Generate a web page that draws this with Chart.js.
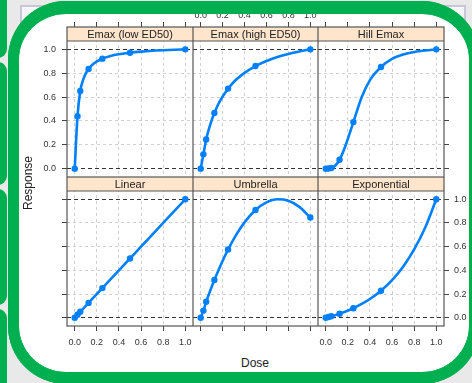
<!DOCTYPE html>
<html>
<head>
<meta charset="utf-8">
<script src="https://cdn.jsdelivr.net/npm/chart.js@4.4.1/dist/chart.umd.min.js"></script>
<style>
  html, body { margin: 0; padding: 0; }
  body { width: 472px; height: 383px; overflow: hidden; position: relative; background: #e9e9e9;
         font-family: 'Liberation Sans', Arial, sans-serif; }
  .pill { position: absolute; left: -4px; width: 11px; background: #00b050; border-radius: 0 9px 9px 0; }
  .sheet { position: absolute; left: 20px; top: 5px; width: 446px; height: 358px; background: #f7f7f7;
           border: 2px solid #cac6da; box-sizing: border-box; }
  .frame { position: absolute; left: 8px; top: 1px; width: 472px; height: 383px; box-sizing: border-box;
           border-style: solid; border-color: #00b050; border-width: 13px 11px 12px 11px; border-radius: 58px; }
  .frame.fill { background: #fff; z-index: 1; }
  .frame.line { background: transparent; z-index: 5; }
  canvas { position: absolute; z-index: 2; }
  .title { position: absolute; z-index: 3; color: #222; font-size: 12px; white-space: nowrap; }
</style>
</head>
<body>
<div class="pill" style="top:-12px;height:70px"></div>
<div class="pill" style="top:62px;height:123px"></div>
<div class="pill" style="top:189px;height:116px"></div>
<div class="pill" style="top:309px;height:90px"></div>
<div class="sheet"></div>
<div class="frame fill"></div>
<div id="panels"></div>
<div class="title" style="left:28px;top:183px;transform:translate(-50%,-50%) rotate(-90deg)">Response</div>
<div class="title" style="left:255px;top:363px;transform:translate(-50%,-50%)">Dose</div>
<div class="frame line"></div>
<script>
// dose grid the curves were read at, and the doses marked with points
const doseGrid = [0, 0.025, 0.05, 0.075, 0.1, 0.125, 0.175, 0.25, 0.325, 0.4, 0.5, 0.6, 0.7, 0.8, 0.9, 1];
const doses = [0, 0.025, 0.05, 0.125, 0.25, 0.5, 1];

const emaxLow = [0, 0.44, 0.651, 0.742, 0.798, 0.835, 0.883, 0.922, 0.945, 0.959, 0.972, 0.981, 0.988, 0.993, 0.997, 1];
const emaxHigh = [0, 0.12, 0.244, 0.332, 0.405, 0.467, 0.565, 0.671, 0.747, 0.803, 0.86, 0.902, 0.935, 0.961, 0.982, 1];
const hillEmax = [0, 0.001, 0.005, 0.017, 0.04, 0.074, 0.184, 0.39, 0.599, 0.742, 0.852, 0.92, 0.956, 0.978, 0.991, 1];
const linear = [0, 0.025, 0.05, 0.075, 0.1, 0.125, 0.175, 0.25, 0.325, 0.4, 0.5, 0.6, 0.7, 0.8, 0.9, 1];
const umbrella = [0, 0.06, 0.135, 0.198, 0.26, 0.318, 0.429, 0.576, 0.702, 0.805, 0.91, 0.974, 1.0, 0.988, 0.936, 0.846];
const exponential = [0, 0.006, 0.012, 0.019, 0.026, 0.034, 0.051, 0.08, 0.116, 0.158, 0.228, 0.317, 0.431, 0.577, 0.762, 1];

const panelTitles = ['Emax (low ED50)', 'Emax (high ED50)', 'Hill Emax', 'Linear', 'Umbrella', 'Exponential'];
const panelSeries = [emaxLow, emaxHigh, hillEmax, linear, umbrella, exponential];
const tickValues = [0, 0.2, 0.4, 0.6, 0.8, 1];
const refValues = [0, 1];
const axisMin = -0.07, axisMax = 1.07;

// layout (px)
const colX = [67, 193, 318, 444];
const rowTop = [27, 177];
const rowBottom = [177, 326];
const stripH = 14;

const FONT = "'Liberation Sans', Arial, sans-serif";
const blue = '#0080ff';

const stripPlugin = {
    id: 'strip',
    afterDraw(chart) {
        const a = chart.chartArea;
        const ctx = chart.ctx;
        ctx.save();
        ctx.fillStyle = '#ffe5cc';
        ctx.fillRect(a.left, a.top, a.right - a.left, stripH);
        ctx.strokeStyle = '#555';
        ctx.lineWidth = 1.2;
        ctx.beginPath();
        ctx.moveTo(a.left, a.top + stripH);
        ctx.lineTo(a.right, a.top + stripH);
        ctx.stroke();
        ctx.strokeRect(a.left, a.top, a.right - a.left, a.bottom - a.top);
        ctx.fillStyle = '#222';
        ctx.font = '11px ' + FONT;
        ctx.textAlign = 'center';
        ctx.textBaseline = 'middle';
        ctx.fillText(chart.options.plugins.strip.title, (a.left + a.right) / 2, a.top + stripH / 2 + 0.5);
        ctx.restore();
    }
};

function setTicks(s) {
    s.ticks = tickValues.map(v => ({ value: v }));
}
function isRef(ctx) {
    return ctx.tick && refValues.includes(ctx.tick.value);
}
function fixSize(prop, size) {
    return function (s) {
        s[prop] = size;
        s.paddingTop = s.paddingBottom = s.paddingLeft = s.paddingRight = 0;
    };
}

const tickFont = { family: FONT, size: 9 };
const holder = document.getElementById('panels');

for (let i = 0; i < 6; i++) {
    const r = Math.floor(i / 3), c = i % 3;
    const L = c === 0 ? (r === 0 ? 40 : 6) : 0;
    const R = c === 2 ? (r === 1 ? 30 : 6) : 0;
    const T = r === 0 ? (c === 1 ? 24 : 6) : 0;
    const B = r === 1 ? (c !== 1 ? 28 : 6) : 0;
    const w = colX[c + 1] - colX[c], h = rowBottom[r] - rowTop[r];
    const plotH = h - stripH;
    const yMax = axisMax + stripH * (axisMax - axisMin) / plotH;

    const canvas = document.createElement('canvas');
    canvas.width = L + w + R;
    canvas.height = T + h + B;
    canvas.style.left = (colX[c] - L) + 'px';
    canvas.style.top = (rowTop[r] - T) + 'px';
    holder.appendChild(canvas);

    const series = panelSeries[i];
    const scales = {
        x: {
            type: 'linear', position: 'bottom', min: axisMin, max: axisMax,
            afterBuildTicks: setTicks,
            afterFit: fixSize('height', B),
            grid: { color: '#d0d0d0', lineWidth: 1, drawTicks: r === 1, tickLength: 5,
                    tickColor: '#444', tickWidth: 1, tickBorderDash: [] },
            border: { display: false, dash: [3, 3] },
            ticks: { display: r === 1 && c !== 1, padding: 6, font: tickFont, color: '#333',
                     maxRotation: 0, autoSkip: false, callback: v => v.toFixed(1) }
        },
        y: {
            type: 'linear', position: 'left', min: axisMin, max: yMax,
            afterBuildTicks: setTicks,
            afterFit: fixSize('width', L),
            grid: { color: ctx => isRef(ctx) ? '#333' : '#d0d0d0', lineWidth: 1, drawTicks: c === 0,
                    tickLength: 5, tickColor: '#444', tickWidth: 1, tickBorderDash: [] },
            border: { display: false, dash: ctx => isRef(ctx) ? [4, 3] : [3, 3] },
            ticks: { display: c === 0 && r === 0, padding: 6, font: tickFont, color: '#333',
                     callback: v => v.toFixed(1) }
        }
    };
    if (c === 2) {
        scales.yRight = {
            type: 'linear', axis: 'y', position: 'right', min: axisMin, max: yMax,
            afterBuildTicks: setTicks,
            afterFit: fixSize('width', R),
            grid: { drawOnChartArea: false, drawTicks: true, tickLength: 5, tickColor: '#444',
                    tickWidth: 1, tickBorderDash: [] },
            border: { display: false },
            ticks: { display: r === 1, padding: 5, font: tickFont, color: '#333',
                     callback: v => v.toFixed(1) }
        };
    }
    if (r === 0) {
        scales.xTop = {
            type: 'linear', axis: 'x', position: 'top', min: axisMin, max: axisMax,
            afterBuildTicks: setTicks,
            afterFit: fixSize('height', T),
            grid: { drawOnChartArea: false, drawTicks: true, tickLength: 5, tickColor: '#444',
                    tickWidth: 1, tickBorderDash: [] },
            border: { display: false },
            ticks: { display: c === 1, padding: 1, font: tickFont, color: '#333',
                     maxRotation: 0, autoSkip: false, callback: v => v.toFixed(1) }
        };
    }

    new Chart(canvas.getContext('2d'), {
        type: 'scatter',
        data: {
            datasets: [{
                data: doseGrid.map((d, k) => ({ x: d, y: series[k] })),
                showLine: true,
                cubicInterpolationMode: 'monotone',
                borderColor: blue,
                borderWidth: 2.6,
                pointRadius: 0
            }, {
                data: doses.map(d => ({ x: d, y: series[doseGrid.indexOf(d)] })),
                showLine: false,
                pointRadius: 3.2,
                pointBackgroundColor: blue,
                pointBorderWidth: 0
            }]
        },
        options: {
            responsive: false,
            animation: false,
            layout: { padding: 0, autoPadding: false },
            scales: scales,
            plugins: {
                legend: { display: false },
                tooltip: { enabled: false },
                strip: { title: panelTitles[i] }
            }
        },
        plugins: [stripPlugin]
    });
}
</script>
</body>
</html>
